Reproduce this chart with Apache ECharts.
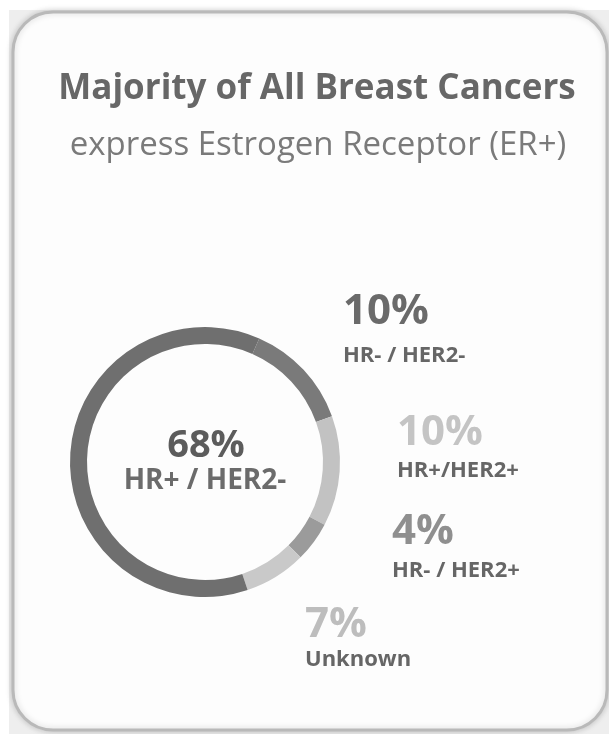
<!DOCTYPE html>
<html>
<head>
<meta charset="utf-8">
<script src="https://cdn.jsdelivr.net/npm/echarts@6/dist/echarts.min.js"></script>
<style>
  html, body { margin: 0; padding: 0; background: #ffffff; }
  #main { width: 609px; height: 734px; }
</style>
</head>
<body>
<div id="main"></div>
<script>
// segments, in clockwise order starting at the top right of the ring
var segmentNames = ['HR- / HER2-', 'HR+/HER2+', 'HR- / HER2+', 'Unknown', 'HR+ / HER2-'];
// share of the ring each arc takes (percent of 360 deg)
var ringShares = [12.9, 13.2, 4.8, 7.4, 61.7];
// printed percentages
var pctLabels = ['10%', '10%', '4%', '7%', '68%'];
var ringColors = ['#7a7a7a', '#c2c2c2', '#9b9b9b', '#c9c9c9', '#6f6f6f'];
var pctColors = ['#6a6a6a', '#c4c4c4', '#8f8f8f', '#bdbdbd', '#5c5c5c'];

var titleText = 'Majority of All Breast Cancers';
var subText = 'express Estrogen Receptor (ER+)';

var myChart = echarts.init(document.getElementById('main'), null, { renderer: 'canvas' });

// side labels: [x, y of % line, y of name line]
var sidePos = [[343, 312, 356], [397, 433, 471], [392, 532, 571], [305, 625, 660]];

var graphics = [];
// grey backdrop and card
graphics.push({
	type : 'rect', z : -10,
	shape : { x : 9, y : 10, width : 600, height : 724 },
	style : { fill : '#eeeeee' }
});
graphics.push({
	type : 'rect', z : -9,
	shape : { x : 13, y : 12, width : 594, height : 718, r : 40 },
	style : {
		fill : '#fdfdfd', stroke : '#b9b9b9', lineWidth : 3,
		shadowColor : 'rgba(0,0,0,0.18)', shadowBlur : 6
	}
});
graphics.push({
	type : 'text', x : 317, y : 89,
	style : { text : titleText, font : 'bold 35px "Open Sans"', fill : '#676767', align : 'center', verticalAlign : 'middle' }
});
graphics.push({
	type : 'text', x : 318, y : 146,
	style : { text : subText, font : '33px "Open Sans"', fill : '#7a7a7a', align : 'center', verticalAlign : 'middle' }
});
// center label
graphics.push({
	type : 'text', x : 206, y : 446,
	style : { text : pctLabels[4], font : 'bold 38px "Open Sans"', fill : pctColors[4], align : 'center', verticalAlign : 'middle' }
});
graphics.push({
	type : 'text', x : 205, y : 481,
	style : { text : segmentNames[4], font : 'bold 28px "Open Sans"', fill : '#6b6b6b', align : 'center', verticalAlign : 'middle' }
});
for (var i = 0; i < 4; i++) {
	graphics.push({
		type : 'text', x : sidePos[i][0], y : sidePos[i][1],
		style : { text : pctLabels[i], font : 'bold 42px "Open Sans"', fill : pctColors[i], align : 'left', verticalAlign : 'middle' }
	});
	graphics.push({
		type : 'text', x : sidePos[i][0], y : sidePos[i][2],
		style : { text : segmentNames[i], font : 'bold 22px "Open Sans"', fill : '#666666', align : 'left', verticalAlign : 'middle' }
	});
}

var option = {
	backgroundColor : '#ffffff',
	animation : false,
	graphic : graphics,
	series : [ {
		type : 'pie',
		center : [ 205, 462 ],
		radius : [ 118, 135 ],
		startAngle : 66.3,
		clockwise : true,
		avoidLabelOverlap : false,
		label : { show : false },
		labelLine : { show : false },
		itemStyle : { borderWidth : 0 },
		data : (function() {
			var arr = [];
			for (var i = 0; i < segmentNames.length; i++) {
				arr.push({
					name : segmentNames[i],
					value : ringShares[i],
					itemStyle : { color : ringColors[i] }
				});
			}
			return arr;
		})()
	} ]
};
myChart.setOption(option);
</script>
</body>
</html>
